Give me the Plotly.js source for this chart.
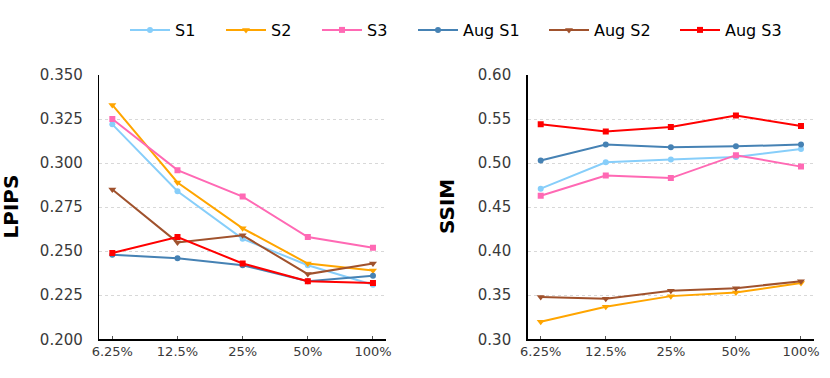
<!DOCTYPE html>
<html>
<head>
<meta charset="utf-8">
<script src="https://cdn.plot.ly/plotly-3.0.1.min.js"></script>
<style>
  body { margin: 0; padding: 0; background: #fff; }
  #chart { width: 830px; height: 378px; }
</style>
</head>
<body>
<div id="chart"></div>
<script>
// data
var ratios = ['6.25%', '12.5%', '25%', '50%', '100%'];
var names = ['S1', 'S2', 'S3', 'Aug S1', 'Aug S2', 'Aug S3'];

var lpips_s1 = [0.322, 0.284, 0.257, 0.242, 0.231];
var lpips_s2 = [0.333, 0.289, 0.263, 0.243, 0.239];
var lpips_s3 = [0.325, 0.296, 0.281, 0.258, 0.252];
var lpips_aug_s1 = [0.248, 0.246, 0.242, 0.233, 0.236];
var lpips_aug_s2 = [0.285, 0.255, 0.259, 0.237, 0.243];
var lpips_aug_s3 = [0.249, 0.258, 0.243, 0.233, 0.232];

var ssim_s1 = [0.471, 0.501, 0.504, 0.507, 0.516];
var ssim_s2 = [0.320, 0.337, 0.349, 0.353, 0.364];
var ssim_s3 = [0.463, 0.486, 0.483, 0.509, 0.496];
var ssim_aug_s1 = [0.503, 0.521, 0.518, 0.519, 0.521];
var ssim_aug_s2 = [0.348, 0.346, 0.355, 0.358, 0.366];
var ssim_aug_s3 = [0.544, 0.536, 0.541, 0.554, 0.542];

var colors = ['#87CEFA', '#FFA500', '#FF69B4', '#4682B4', '#A0522D', '#FF0000'];
var symbols = ['circle', 'triangle-down', 'square', 'circle', 'triangle-down', 'square'];
var sizes = [6, 7, 6, 6, 7, 6];

var lpips = [lpips_s1, lpips_s2, lpips_s3, lpips_aug_s1, lpips_aug_s2, lpips_aug_s3];
var ssim = [ssim_s1, ssim_s2, ssim_s3, ssim_aug_s1, ssim_aug_s2, ssim_aug_s3];

var font = 'DejaVu Sans';
var W = 830, H = 378;

var data = [];
for (let i = 0; i < names.length; i++) {
  data.push({
    x: ratios, y: lpips[i], xaxis: 'x', yaxis: 'y',
    type: 'scatter', mode: 'lines+markers', name: names[i],
    legend: i < 3 ? 'legend' : 'legend2',
    line: {color: colors[i], width: 2},
    marker: {color: colors[i], symbol: symbols[i], size: sizes[i]}
  });
}
for (let i = 0; i < names.length; i++) {
  data.push({
    x: ratios, y: ssim[i], xaxis: 'x2', yaxis: 'y2',
    type: 'scatter', mode: 'lines+markers', name: names[i], showlegend: false,
    line: {color: colors[i], width: 2},
    marker: {color: colors[i], symbol: symbols[i], size: sizes[i]}
  });
}

function xax(dom, anchor) {
  return {
    domain: dom, anchor: anchor, type: 'category', range: [-0.2, 4.2],
    showline: true, linecolor: '#000', linewidth: 1.5, mirror: false,
    showgrid: false, zeroline: false,
    ticks: 'inside', ticklen: 3, tickcolor: '#555', tickwidth: 1,
    tickfont: {family: font, size: 13, color: '#3a3a3a'}
  };
}
function yax(anchor, range, dtick, fmt) {
  return {
    domain: [0.1024, 0.8016], anchor: anchor, range: range, dtick: dtick, tick0: 0,
    tickformat: fmt,
    showline: true, linecolor: '#000', linewidth: 1.5,
    showgrid: true, gridcolor: '#d8d8d8', griddash: 'dot', gridwidth: 1,
    zeroline: false, ticks: '', ticklabelstandoff: 12,
    tickfont: {family: font, size: 15, color: '#3a3a3a'}
  };
}

var layout = {
  width: W, height: H,
  margin: {l: 0, r: 0, t: 0, b: 0},
  paper_bgcolor: '#fff', plot_bgcolor: '#fff',
  font: {family: font},
  xaxis: xax([99.3 / W, 386 / W], 'y'),
  yaxis: yax('x', [0.2, 0.35], 0.025, '.3f'),
  xaxis2: xax([527.7 / W, 814 / W], 'y2'),
  yaxis2: yax('x2', [0.3, 0.6], 0.05, '.2f'),
  legend: {
    orientation: 'h', x: 125 / W, y: 1 - 30 / H, xanchor: 'left', yanchor: 'middle',
    itemwidth: 40, entrywidth: 41,
    font: {family: font, size: 16, color: '#000'}, bgcolor: 'rgba(0,0,0,0)'
  },
  legend2: {
    orientation: 'h', x: 413 / W, y: 1 - 30 / H, xanchor: 'left', yanchor: 'middle',
    itemwidth: 40, entrywidth: 76,
    font: {family: font, size: 16, color: '#000'}, bgcolor: 'rgba(0,0,0,0)'
  },
  annotations: [
    {text: '<b>LPIPS</b>', xref: 'paper', yref: 'paper', x: 10.5 / W, y: 1 - 207 / H,
     xanchor: 'center', yanchor: 'middle', textangle: -90, showarrow: false,
     font: {family: font, size: 20, color: '#000'}},
    {text: '<b>SSIM</b>', xref: 'paper', yref: 'paper', x: 447 / W, y: 1 - 207 / H,
     xanchor: 'center', yanchor: 'middle', textangle: -90, showarrow: false,
     font: {family: font, size: 20, color: '#000'}}
  ]
};

Plotly.newPlot('chart', data, layout, {displayModeBar: false, staticPlot: true});
</script>
</body>
</html>
